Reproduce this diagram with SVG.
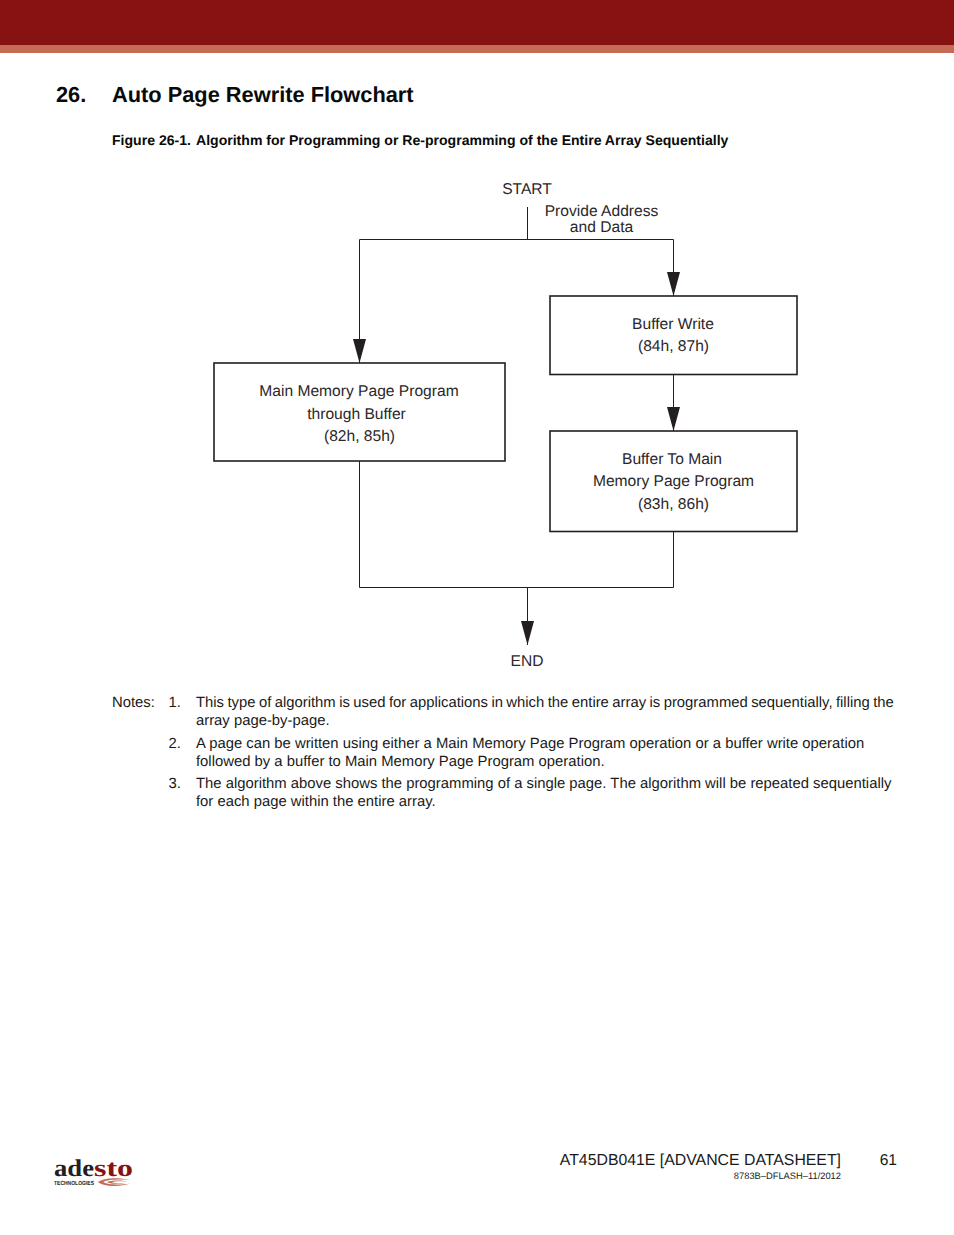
<svg xmlns="http://www.w3.org/2000/svg" width="954" height="1235" viewBox="0 0 954 1235">
<style>
text{font-family:"Liberation Sans",Arial,sans-serif;fill:#1a1a1a;text-rendering:geometricPrecision}
.d{font-size:15.6px;fill:#2b2829;text-anchor:middle}
.n{font-size:14.83px;fill:#1a1a1a}
.box{fill:#fff;stroke:#231f20;stroke-width:1.6}
.line{fill:none;stroke:#231f20;stroke-width:1}
.head{fill:#231f20}
.logo{font-family:"Liberation Serif",serif;font-size:24px;font-weight:700}
.sw{fill:#c46a55}
</style>
<defs><marker id="arrow" markerUnits="userSpaceOnUse" markerWidth="25" markerHeight="13" viewBox="0 0 25 13" refX="24" refY="6.500" orient="auto"><path class="head" d="M0 0L24 6.500L0 13Z"/></marker></defs>
<rect width="954" height="1235" fill="#fff"/>
<rect id="band" width="954" height="45" fill="#871212"/>
<rect id="band2" y="45" width="954" height="8" fill="#c46a55"/>
<text x="56" y="102" font-size="21.8" font-weight="700" style="fill:#0a0a0a">26.</text>
<text x="112" y="102" font-size="21.8" font-weight="700" style="fill:#0a0a0a">Auto Page Rewrite Flowchart</text>
<text x="112" y="145" font-size="14.07" font-weight="700" style="fill:#0a0a0a">Figure 26-1.</text>
<text x="196" y="145" font-size="14.07" font-weight="700" style="fill:#0a0a0a">Algorithm for Programming or Re-programming of the Entire Array Sequentially</text>
<g id="connectors">
<path class="line" d="M527.500 207V239.500"/>
<path class="line" d="M359.500 239.500H673.500V296" marker-end="url(#arrow)"/>
<path class="line" d="M359.500 239.500V363" marker-end="url(#arrow)"/>
<path class="line" d="M673.500 375V431" marker-end="url(#arrow)"/>
<path class="line" d="M359.500 461V587.500H673.500V531"/>
<path class="line" d="M527.500 587.500V645" marker-end="url(#arrow)"/>
</g>
<g id="start"><text class="d" x="527" y="194">START</text></g>
<g id="provide"><text class="d" x="601.500" y="216">Provide Address</text><text class="d" x="601.500" y="232">and Data</text></g>
<g id="buffer-write"><rect class="box" x="550" y="296" width="247" height="78.500"/><text class="d" x="673" y="329">Buffer Write</text><text class="d" x="673.500" y="351">(84h, 87h)</text></g>
<g id="main-memory"><rect class="box" x="214" y="363" width="291" height="98"/><text class="d" x="359" y="396">Main Memory Page Program</text><text class="d" x="356.500" y="419">through Buffer</text><text class="d" x="359.500" y="441">(82h, 85h)</text></g>
<g id="buffer-to-main"><rect class="box" x="550" y="431" width="247" height="100.500"/><text class="d" x="672" y="464">Buffer To Main</text><text class="d" x="673.500" y="486">Memory Page Program</text><text class="d" x="673.500" y="509">(83h, 86h)</text></g>
<g id="end"><text class="d" x="527" y="666">END</text></g>
<g id="notes">
<text class="n" x="112" y="707">Notes:</text>
<text class="n" x="168.500" y="707">1.</text>
<text class="n" x="196" y="707" word-spacing="-0.68">This type of algorithm is used for applications in which the entire array is programmed sequentially, filling the</text>
<text class="n" x="196" y="725">array page-by-page.</text>
<text class="n" x="168.500" y="748">2.</text>
<text class="n" x="196" y="748">A page can be written using either a Main Memory Page Program operation or a buffer write operation</text>
<text class="n" x="196" y="766">followed by a buffer to Main Memory Page Program operation.</text>
<text class="n" x="168.500" y="788">3.</text>
<text class="n" x="196" y="788">The algorithm above shows the programming of a single page. The algorithm will be repeated sequentially</text>
<text class="n" x="196" y="806">for each page within the entire array.</text>
</g>
<g id="footer">
<text x="841" y="1165" font-size="15.83" text-anchor="end">AT45DB041E [ADVANCE DATASHEET]</text>
<text x="897" y="1165" font-size="15.6" text-anchor="end">61</text>
<text x="841" y="1179" font-size="9.330" text-anchor="end">8783B–DFLASH–11/2012</text>
</g>
<g id="logo">
<text class="logo" x="54" y="1175.500" style="fill:#231f20" textLength="40" lengthAdjust="spacingAndGlyphs">ade</text>
<text class="logo" x="94" y="1175.500" style="fill:#871212" textLength="39" lengthAdjust="spacingAndGlyphs">sto</text>
<text x="54" y="1185" font-size="6" style="fill:#231f20" font-weight="700" textLength="40" lengthAdjust="spacingAndGlyphs">TECHNOLOGIES</text>
<path class="sw" d="M98 1182C103 1178 118 1177 130 1180C120 1179 107 1179.500 103 1182C108 1185 121 1185 130 1183.500C121 1187 104 1187 98 1182Z"/>
<path class="sw" d="M107 1182C111 1180 122 1180 127 1181.500C120 1181 114 1181.300 112 1182.300C115 1183.500 121 1183.500 125 1183C119 1184.500 110 1184 107 1182Z"/>
</g>
</svg>
